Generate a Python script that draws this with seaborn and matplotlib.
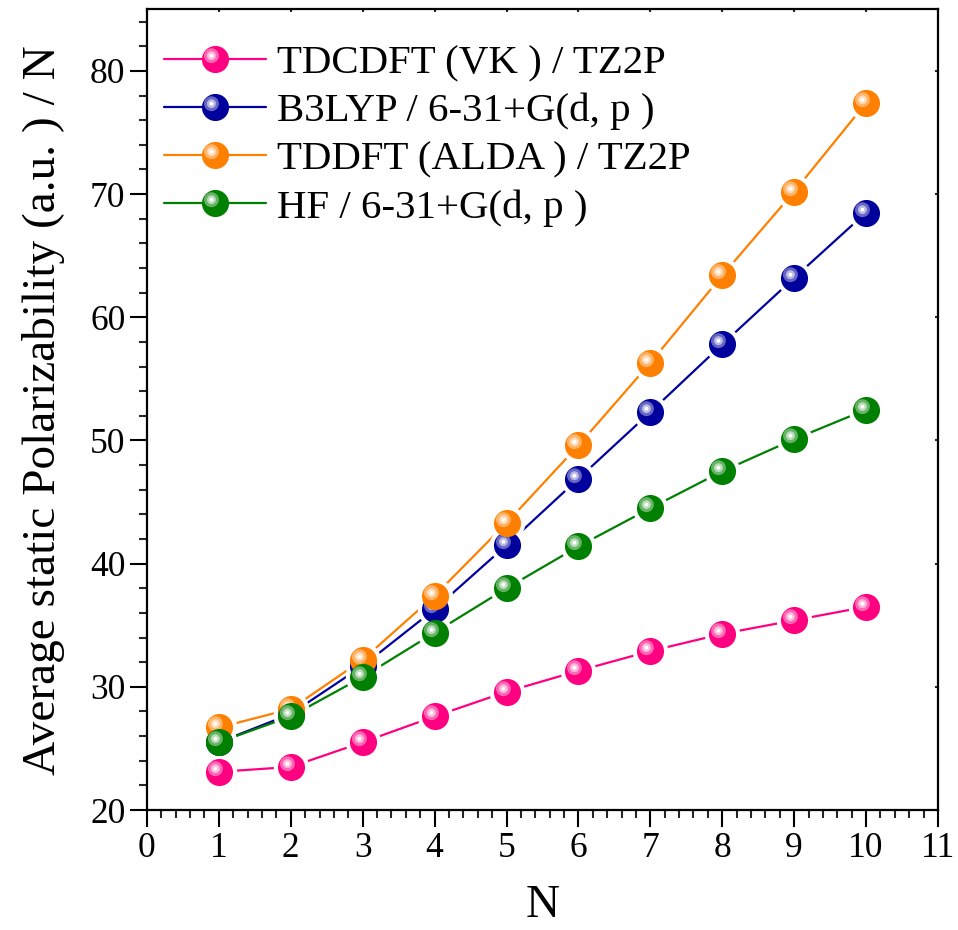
"""Average static polarizability per unit vs chain length N."""
import matplotlib

matplotlib.use("Agg")
import matplotlib.pyplot as plt
import numpy as np
import pandas as pd
import seaborn as sns
from matplotlib.lines import Line2D
from matplotlib.legend_handler import HandlerTuple
from matplotlib.path import Path
from matplotlib.ticker import MultipleLocator

n_values = [1, 2, 3, 4, 5, 6, 7, 8, 9, 10]
tdcdft_vk = [23.1, 23.5, 25.5, 27.6, 29.6, 31.3, 32.9, 34.3, 35.4, 36.5]
b3lyp = [25.5, 27.8, 31.7, 36.3, 41.5, 46.9, 52.3, 57.8, 63.2, 68.5]
tddft_alda = [26.7, 28.2, 32.2, 37.4, 43.3, 49.6, 56.3, 63.4, 70.2, 77.4]
hf = [25.5, 27.6, 30.8, 34.4, 38.0, 41.4, 44.5, 47.5, 50.1, 52.5]

series_names = [
    "TDCDFT (VK ) / TZ2P",
    "B3LYP / 6-31+G(d, p )",
    "TDDFT (ALDA ) / TZ2P",
    "HF / 6-31+G(d, p )",
]
series_values = [tdcdft_vk, b3lyp, tddft_alda, hf]
colors = ["#FF0080", "#00009C", "#FF8000", "#008000"]

df = pd.concat(
    [pd.DataFrame({"N": n_values, "alpha": v, "method": m})
     for m, v in zip(series_names, series_values)],
    ignore_index=True,
)

sns.set_theme(style="white")
plt.rcParams["font.family"] = ["Liberation Serif", "DejaVu Serif"]
plt.rcParams["text.color"] = "black"
plt.rcParams["axes.labelcolor"] = "black"


def circle_marker(cx, cy, r):
    # circle path padded to the unit box so matplotlib keeps the offset
    pad = Path([(-1, -1), (1, 1)], [Path.MOVETO, Path.MOVETO])
    circ = Path.circle((cx, cy), r)
    return Path.make_compound_path(pad, circ)


def lighten(c, f):
    rgb = np.array(matplotlib.colors.to_rgb(c))
    return tuple(rgb + (1 - rgb) * f)


glow = circle_marker(-0.30, 0.28, 0.55)
core = circle_marker(-0.30, 0.28, 0.33)
spot = circle_marker(-0.30, 0.28, 0.15)
ms = 19.5


def ball_layers(c):
    return [("o", c), (glow, lighten(c, 0.4)), (core, lighten(c, 0.72)), (spot, "white")]


fig = plt.figure(figsize=(9.58, 9.30), dpi=100)
ax = fig.add_axes([0.1534, 0.129, 0.8257, 0.861])

sns.lineplot(data=df, x="N", y="alpha", hue="method", palette=colors,
             hue_order=series_names, sort=False, legend=False, lw=1.6,
             ax=ax, zorder=2)

# white halos make the small gaps between lines and balls
for vals in series_values:
    ax.plot(n_values, vals, ls="none", marker="o", ms=ms + 6,
            mfc="white", mec="none", zorder=3)

handles = []
for i, (vals, c) in enumerate(zip(series_values, colors)):
    z = 4 + i
    hnd = []
    for k, (mk, fc) in enumerate(ball_layers(c)):
        ax.plot(n_values, vals, ls="none", marker=mk, ms=ms, mfc=fc, mec="none", zorder=z)
        hnd.append(Line2D([], [], color=c, lw=1.6 if k == 0 else 0, marker=mk,
                          ms=ms, mfc=fc, mec="none"))
    handles.append(tuple(hnd))

ax.legend(handles, series_names, handler_map={tuple: HandlerTuple(ndivide=1, pad=0)},
          loc="upper left", bbox_to_anchor=(0.022, 0.956), frameon=False,
          fontsize=29.4, handlelength=2.5, handletextpad=0.25, labelspacing=0.26,
          borderpad=0, borderaxespad=0)

ax.set_xlim(0, 11)
ax.set_ylim(20, 85)
ax.xaxis.set_major_locator(MultipleLocator(1))
ax.xaxis.set_minor_locator(MultipleLocator(0.2))
ax.yaxis.set_minor_locator(MultipleLocator(2))
ax.set_yticks([20, 30, 40, 50, 60, 70, 80])
ax.tick_params(which="major", direction="out", length=12, width=1.5,
               labelsize=25.5, colors="black", bottom=True, left=True)
ax.tick_params(which="minor", direction="out", length=5.5, width=1.5,
               bottom=True, left=True)
for s in ax.spines.values():
    s.set_linewidth(1.6)
    s.set_color("black")

top = ax.secondary_xaxis("top")
top.set_xticks(range(0, 12))
top.tick_params(direction="in", length=2, width=1.5, labeltop=False)
right = ax.secondary_yaxis("right")
right.set_yticks([20, 30, 40, 50, 60, 70, 80])
right.tick_params(direction="in", length=2, width=1.5, labelright=False)

ax.set_xlabel("N", fontsize=34, labelpad=14)
ax.set_ylabel("Average static Polarizability (a.u. ) / N", fontsize=34, labelpad=18)

fig.savefig("out.png", dpi=100)
